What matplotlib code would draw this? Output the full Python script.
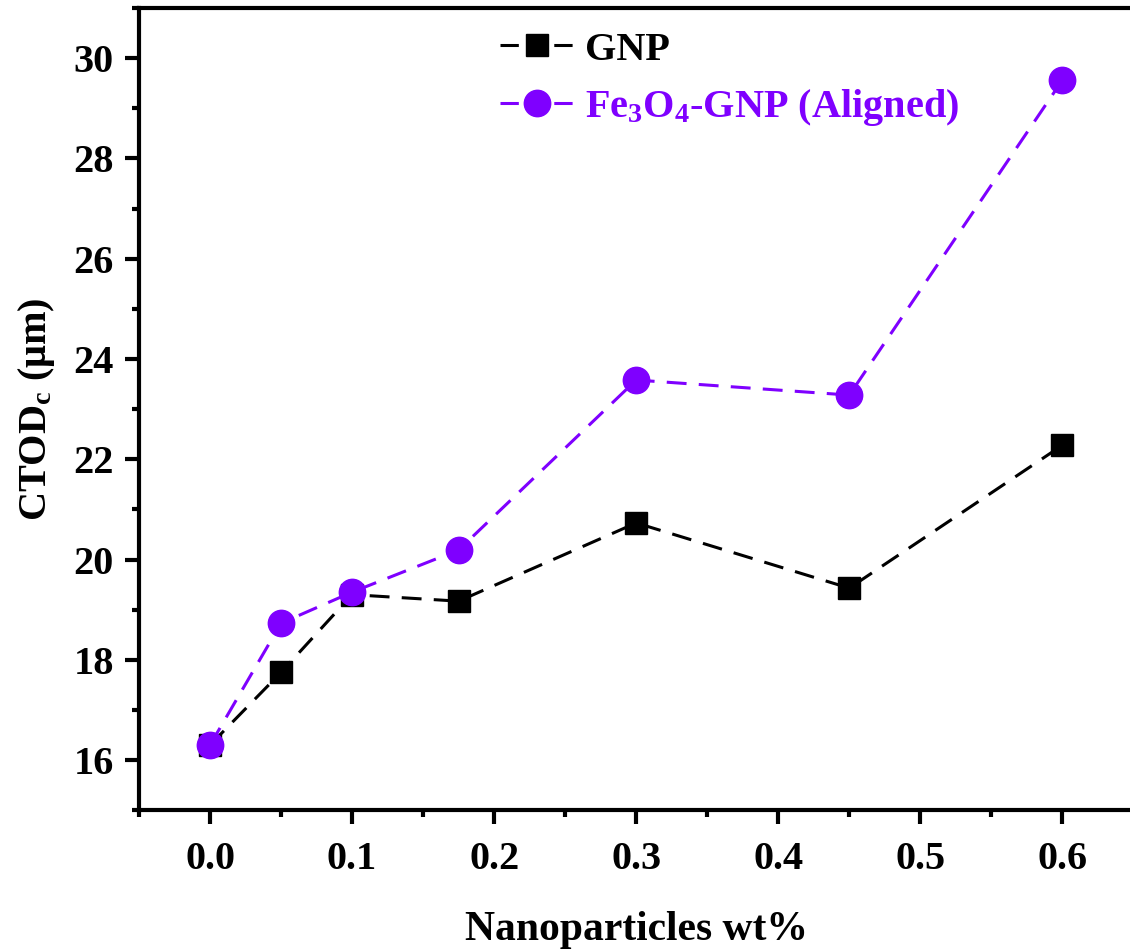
import matplotlib
matplotlib.use("Agg")
import matplotlib.pyplot as plt
import matplotlib.ticker as mticker

plt.rcParams['font.family'] = ['Liberation Serif', 'DejaVu Serif']
plt.rcParams['font.weight'] = 'bold'
plt.rcParams['mathtext.fontset'] = 'custom'
plt.rcParams['mathtext.rm'] = 'Liberation Serif:bold'
plt.rcParams['mathtext.it'] = 'Liberation Serif:bold'
plt.rcParams['mathtext.bf'] = 'Liberation Serif:bold'

wt = [0.0, 0.05, 0.1, 0.175, 0.3, 0.45, 0.6]
gnp = [16.3, 17.75, 19.3, 19.17, 20.73, 19.43, 22.28]
fe_gnp = [16.3, 18.73, 19.35, 20.19, 23.58, 23.28, 29.56]

purple = "#7F00FF"

fig = plt.figure(figsize=(11.3, 9.51), dpi=100)
ax = fig.add_axes([0.123, 0.148, 0.880, 0.8436])

ax.plot(wt, gnp, color="black", lw=2.2, dashes=(6.5, 4), marker="s", ms=16,
        label="GNP")
ax.plot(wt, fe_gnp, color=purple, lw=2.2, dashes=(6.5, 4), marker="o", ms=19,
        label="Fe$_3$O$_4$-GNP (Aligned)")

ax.set_xlim(-0.05, 0.65)
ax.set_ylim(15, 31)
ax.xaxis.set_major_locator(mticker.MultipleLocator(0.1))
ax.xaxis.set_minor_locator(mticker.MultipleLocator(0.05))
ax.yaxis.set_major_locator(mticker.MultipleLocator(2))
ax.yaxis.set_minor_locator(mticker.MultipleLocator(1))
ax.xaxis.set_major_formatter(mticker.FormatStrFormatter("%.1f"))

for s in ax.spines.values():
    s.set_linewidth(3)
ax.tick_params(which="major", direction="out", length=10, width=3,
               labelsize=29, pad=12)
ax.tick_params(which="minor", direction="out", length=5, width=3)
ax.tick_params(axis="y", which="major", pad=8)

ax.set_xlabel("Nanoparticles wt%", fontsize=30, fontweight="bold", labelpad=24)
ax.set_ylabel("CTOD$_c$ ($\\mathregular{\\mu}$m)", fontsize=29, fontweight="bold",
              labelpad=12)

leg = ax.legend(loc="upper left", bbox_to_anchor=(0.327, 1.016), frameon=False,
                fontsize=29, handlelength=1.8, handletextpad=0.3,
                labelspacing=0.45)
for txt, col in zip(leg.get_texts(), ["black", purple]):
    txt.set_color(col)
# symmetric dash - marker - dash in the legend keys
for ln in leg.get_lines():
    ln.set_linestyle((0, (6, 11.6)))

fig.savefig("out.png", dpi=100)
